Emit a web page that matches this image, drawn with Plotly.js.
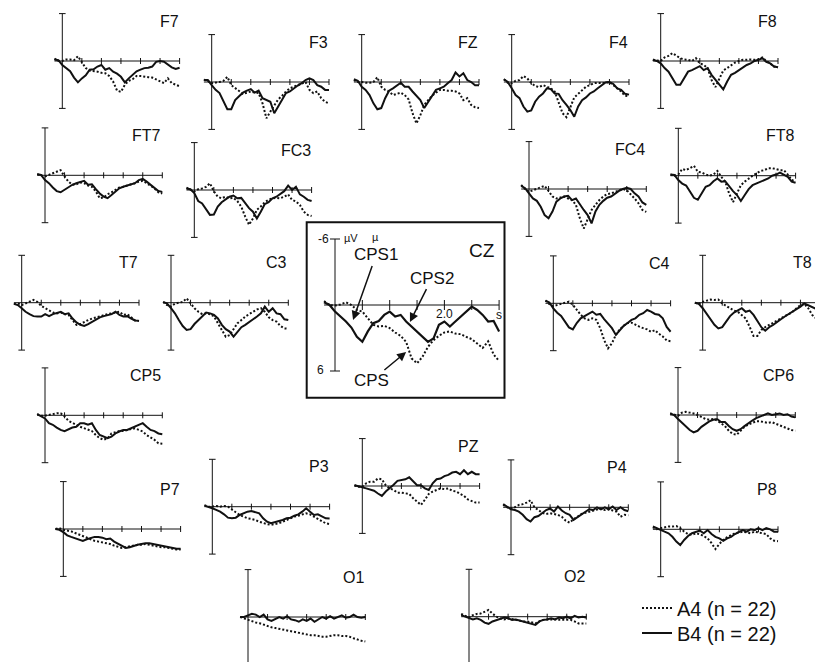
<!DOCTYPE html>
<html><head><meta charset="utf-8">
<script src="https://cdn.plot.ly/plotly-3.0.1.min.js"></script>
<style>html,body{margin:0;padding:0;background:#fff}#chart{width:815px;height:662px}</style>
</head><body><div id="chart"></div>
<script>
// time in seconds (x), amplitude in microvolts (negative plotted upward)
const TIME = [-0.2,-0.1,0.0,0.1,0.2,0.3,0.4,0.5,0.6,0.7,0.8,0.9,1.0,1.1,1.2,1.3,1.4,1.5,1.6,1.7,1.8,1.9,2.0,2.1,2.2,2.3,2.4,2.5,2.6,2.7,2.8,2.9,3.0];
const XTICKS = [0.5,1.0,1.5,2.0,2.5,3.0];
const SERIES_NAMES = ['A4 (n = 22)','B4 (n = 22)'];

const F7_A4 = [-0.3,0,0,-0.2,-0.2,-0.1,-0.6,0.1,0.9,1.2,1.25,1.35,1.5,1.55,1.9,2.6,3.75,3.9,3.0,2.5,2.3,1.9,1.9,2.0,2.05,2.1,2.3,2.5,2.8,2.2,2.8,3.0,3.2];
const F7_B4 = [-0.2,-0.1,0.5,0.9,1.3,2.1,2.7,2.2,1.8,1.1,1.05,0.7,0.5,1.1,0.9,1.35,1.6,2.0,2.7,2.2,1.8,1.3,1.1,0.9,0.85,0.7,0.1,0,0.1,0.5,0.8,1.0,0.85];
const F3_A4 = [-0.3,-0.15,0.15,0.1,0,-0.15,-0.65,0.4,0.8,1.1,1.5,1.35,1.2,1.35,1.4,2.7,4.6,3.75,2.9,2.2,1.75,1.2,0.8,0.6,0.4,0.15,0,1.0,1.4,1.2,2.05,2.5,2.7];
const F3_B4 = [-0.25,-0.25,0.4,1.0,1.4,2.5,3.45,3.45,2.3,1.8,1.35,1.1,0.9,1.35,1.1,2.05,2.3,2.5,3.95,3.1,2.3,1.4,1.2,0.8,0.45,0.15,-0.25,-0.45,-0.25,0.4,0.6,1.0,1.0];
const FZ_A4 = [-0.25,0,0,0.1,0.1,0,-0.6,0.6,1.0,1.2,1.65,1.45,1.35,1.65,2.2,3.95,5.25,4.2,2.9,2.3,1.75,1.35,1.0,1.0,1.1,1.1,1.2,1.45,2.3,2.05,2.9,3.2,3.3];
const FZ_B4 = [-0.35,-0.15,0.6,1.0,1.65,2.7,3.45,3.3,2.05,1.1,0.8,0.4,0.1,0.6,0.6,1.2,1.75,2.3,3.3,2.5,1.65,1.0,0.8,0.6,0.15,-0.25,-1.2,-0.7,-1.1,-0.25,0,0.4,0.4];
const F4_A4 = [-0.35,0.1,0.15,-0.15,-0.25,-0.75,-0.45,0.15,0.5,0.65,0.4,0.6,0.8,1.2,2.6,3.95,4.45,3.1,1.95,1.5,1.1,0.6,0.4,0.15,0.1,0.15,0.1,0,0.4,0.8,1.2,1.75,1.8];
const F4_B4 = [-0.35,0,0.8,1.65,2.05,3.1,3.75,3.6,2.5,1.85,1.45,0.8,0.9,1.45,1.5,2.3,2.9,3.55,4.4,3.1,2.3,1.95,1.45,1.2,0.8,0.4,0.05,0,0.25,0.8,1.0,1.5,1.6];
const F8_A4 = [-0.15,-0.05,0,-0.45,-0.65,-1.0,-0.65,-0.35,-0.2,-0.15,0,-0.35,0.3,0.5,0.9,2.4,3.3,2.2,1.2,0.9,0.5,0.2,0,-0.15,-0.15,-0.2,-0.15,-0.2,-0.45,0,0.3,0.7,0.8];
const F8_B4 = [-0.15,0,0.3,0.9,1.35,2.2,3.0,3.0,2.2,1.35,1.15,0.9,0.65,1.15,0.9,1.75,2.4,3.0,3.6,2.6,1.75,1.5,1.15,0.9,0.5,0.3,0,-0.15,-0.35,0.1,0.3,0.7,0.8];
const FT7_A4 = [-0.15,0.05,0.15,-0.05,-0.25,-0.45,-0.65,0.15,0.8,1.2,1.15,0.9,1.0,1.3,1.45,2.05,2.9,2.8,2.4,2.15,1.85,1.55,1.45,1.3,1.2,1.0,0.8,0.7,1.0,1.3,1.65,2.15,2.3];
const FT7_B4 = [-0.15,-0.05,0.6,1.0,1.55,2.0,2.15,1.85,1.45,1.2,1.0,0.8,0.7,1.2,1.15,1.75,2.3,2.7,2.9,2.5,2.05,1.65,1.45,1.3,1.2,1.0,0.6,0.45,0.8,1.2,1.55,2.0,2.1];
const FC3_A4 = [-0.3,0,0.2,-0.1,-0.2,-0.4,-0.85,0.15,0.85,1.05,0.85,1.05,1.0,1.4,2.1,3.35,4.4,3.6,2.5,2.1,1.55,1.25,1.05,1.0,1.05,0.85,0.55,1.25,1.45,1.9,2.75,3.15,3.3];
const FC3_B4 = [-0.2,-0.1,0.4,1.4,1.7,2.5,3.15,3.1,2.1,1.55,1.25,0.85,0.7,1.05,1.0,1.7,2.3,2.75,3.6,2.75,1.8,1.55,1.05,0.85,0.55,0.15,-0.55,0,-0.4,0.55,0.85,1.25,1.4];
const FC4_A4 = [-0.5,0,0.35,0.15,0,-0.3,-0.4,0.25,0.95,1.2,1.1,0.95,1.2,1.4,2.0,3.7,5.0,3.7,2.65,2.0,1.4,0.95,0.65,0.55,0.35,0.25,0,0.15,0.65,1.2,1.8,2.65,2.9];
const FC4_B4 = [-0.4,-0.1,0.55,1.2,1.5,2.25,3.3,3.7,2.85,1.6,1.2,0.95,0.85,1.4,1.2,2.0,2.65,3.3,4.35,2.85,2.0,1.5,1.1,0.95,0.55,0.25,0,-0.15,0,0.55,0.95,1.7,2.0];
const FT8_A4 = [-0.15,0,-0.15,-0.85,-0.7,-0.95,-1.25,-0.5,-0.4,-0.15,0,-0.15,-0.6,0.15,0.75,2.25,3.35,2.25,1.2,0.75,0.35,0,-0.3,-0.6,-0.7,-0.95,-0.95,-0.85,-0.7,-0.7,-0.15,0.55,0.7];
const FT8_B4 = [-0.15,-0.1,0.55,1.0,1.25,1.95,2.8,3.05,2.25,1.4,1.2,0.7,0.35,0.75,0.7,1.4,1.95,2.45,3.2,2.45,1.7,1.2,1.0,0.75,0.55,0.35,0,-0.15,-0.4,-0.15,0.15,0.75,0.9];
const T7_A4 = [0.15,0.1,0.3,0.1,-0.1,-0.35,-0.1,0.4,0.7,1.0,1.25,1.35,1.25,1.45,1.55,2.2,2.8,2.7,2.4,2.2,2.0,1.85,1.7,1.55,1.45,1.35,1.25,1.15,1.55,1.45,1.85,2.25,2.3];
const T7_B4 = [0.15,0.3,0.7,1.15,1.45,1.7,1.75,1.75,1.45,1.7,1.45,1.25,1.15,1.45,1.35,2.0,2.5,2.8,2.95,2.7,2.4,2.2,1.85,1.7,1.55,1.45,1.15,1.55,1.75,1.7,2.0,2.25,2.3];
const C3_A4 = [-0.1,0.3,0.5,0.1,0,-0.1,-0.55,0.1,0.7,1.15,1.45,1.35,1.45,1.75,2.6,3.45,4.3,4.1,3.35,2.6,2.2,1.75,1.45,1.15,0.85,0.7,1.15,1.85,2.2,2.4,2.95,3.25,3.3];
const C3_B4 = [-0.1,0.1,0.7,1.35,2.2,2.95,3.45,3.35,2.7,2.2,1.7,1.25,1.35,1.55,2.0,2.8,3.35,3.65,4.3,3.65,3.1,2.8,2.4,2.1,1.75,1.35,0.5,1.15,0.7,1.35,1.45,2.1,2.2];
const C4_A4 = [-0.35,0.1,0.35,0.2,0.1,0,-0.2,0.2,0.85,1.45,1.9,2.1,1.9,2.1,3.15,4.65,5.7,5.05,4.0,3.3,2.85,2.5,2.45,2.75,2.95,3.15,3.3,3.6,3.4,3.85,4.2,4.7,4.8];
const C4_B4 = [-0.35,-0.1,0.65,1.2,1.6,2.3,3.05,3.3,2.5,1.9,1.6,1.25,1.05,1.45,1.35,2.0,2.6,3.15,4.0,3.35,2.85,2.5,2.1,1.9,1.45,1.25,0.85,1.05,1.35,1.45,1.9,3.0,3.6];
const T8_A4 = [0,0.15,-0.1,-0.25,-0.4,-0.35,-0.4,0.1,0.4,0.7,1.0,1.15,1.55,2.0,3.05,4.2,4.2,3.45,3.1,2.8,2.5,2.2,2.0,1.7,1.45,1.15,0.7,0.3,0.15,0.7,1.55,2.0,2.2];
const T8_B4 = [0,0.15,0.7,1.35,2.1,2.8,3.25,3.1,2.4,1.7,1.25,1.0,0.7,1.15,1.0,1.55,2.3,3.1,3.55,3.1,2.8,2.4,2.1,1.75,1.45,1.15,0.85,0.5,0.1,0.3,0.5,0.8,1.0];
const CP5_A4 = [-0.15,0.05,0.05,-0.05,-0.15,-0.25,-0.25,0.15,0.7,1.0,1.2,1.45,1.65,1.75,2.0,2.5,2.9,3.1,2.9,2.3,2.15,2.0,2.0,1.85,1.75,1.65,1.85,2.05,2.5,2.8,3.1,3.55,3.6];
const CP5_B4 = [-0.15,0.1,0.4,1.0,1.2,1.55,1.85,2.0,1.75,1.55,1.45,1.0,1.0,1.2,1.0,1.85,2.5,2.7,2.9,2.7,2.3,2.05,1.85,1.85,1.65,1.45,1.2,1.0,1.45,1.85,2.0,2.3,2.4];
const CP6_A4 = [-0.2,0,0.1,-0.3,-0.4,-0.3,-0.2,0,0.3,0.5,0.6,0.5,0.7,1.0,1.4,2.0,2.4,2.5,2.0,1.5,1.2,1.0,0.8,0.8,0.9,1.0,0.9,1.1,1.3,1.6,1.8,1.9,2.0];
const CP6_B4 = [-0.2,0,0.5,1.0,1.4,1.9,2.2,2.0,1.5,1.1,0.8,0.6,0.5,0.9,0.9,1.4,1.8,2.0,1.8,1.4,1.0,0.7,0.4,0.2,0,-0.2,0,-0.1,-0.2,0,-0.1,0.2,0.3];
const P7_A4 = [0,-0.1,0.1,0.2,0.3,0.5,0.7,1.0,1.2,1.4,1.5,1.6,1.7,1.8,1.9,2.1,2.3,2.4,2.3,2.2,2.1,2.0,2.0,1.9,2.0,2.1,2.2,2.3,2.3,2.4,2.5,2.6,2.6];
const P7_B4 = [0,0.1,0.4,0.8,1.0,1.2,1.4,1.5,1.3,1.1,1.0,1.0,1.1,1.3,1.2,1.6,1.9,2.2,2.4,2.3,2.1,2.0,1.9,1.8,1.8,1.9,2.0,2.1,2.2,2.3,2.4,2.5,2.5];
const P3_A4 = [-0.2,0,0,-0.1,0,-0.1,0,0.3,0.7,1.05,1.26,1.47,1.56,1.68,1.9,2.1,2.2,2.3,2.2,2.1,1.9,1.68,1.47,1.26,1.14,0.97,0.84,0.97,1.26,1.56,1.9,2.1,2.2];
const P3_B4 = [-0.13,0,0.2,0.4,0.63,0.97,1.39,1.47,1.39,1.05,0.84,0.63,0.55,0.72,0.84,1.47,1.9,2.1,1.98,1.77,1.68,1.47,1.39,1.14,0.97,0.63,0.21,0.63,1.05,0.97,1.26,1.47,1.5];
const PZ_A4 = [-0.1,0.1,0.1,-0.35,-0.55,-0.55,-0.95,-0.85,-0.1,0.3,0.5,0.85,0.85,0.95,1.0,1.55,2.0,2.4,1.75,1.0,0.7,0.5,0.3,0.4,0.3,0.6,0.7,1.0,1.25,1.7,1.85,2.1,2.1];
const PZ_B4 = [-0.1,0,0.15,0.3,0.5,0.6,0.95,1.25,0.7,0.3,-0.15,-0.65,-0.75,-0.85,-1.1,-0.55,-0.1,-0.1,0.3,0.5,-0.35,-0.85,-0.95,-1.25,-1.4,-1.7,-1.8,-1.5,-2.0,-1.5,-1.8,-1.5,-1.5];
const P4_A4 = [-0.3,0,0.15,0,-0.3,-0.4,-0.6,-0.9,0,0.35,0.7,0.85,0.75,0.85,0.95,1.2,1.7,1.95,1.5,1.2,0.85,0.7,0.55,0.35,0.25,0.15,0.35,0.25,0.4,0.55,1.2,0.95,1.0];
const P4_B4 = [-0.4,-0.1,0.25,0.35,0.55,0.95,1.5,1.8,1.25,1.1,0.75,0.35,0.15,0.55,-0.1,0.4,0.75,0.95,1.6,1.25,0.95,0.55,0.25,0.35,0,0.25,0,0.25,-0.1,0.35,0,0.35,0.5];
const P8_A4 = [-0.25,0,-0.15,-0.25,-0.35,-0.35,-0.4,-0.15,0.3,0.6,0.7,0.5,0.6,0.85,1.15,1.75,2.5,1.85,1.35,1.0,0.7,0.5,0.4,0.3,0.4,0.5,0.3,0.4,0.5,0.6,1.15,1.45,1.5];
const P8_B4 = [-0.35,-0.1,0.1,0.3,0.5,0.95,1.55,2.0,1.35,0.85,0.5,0.3,0.15,0.5,0.1,0.6,0.95,1.15,1.45,1.15,0.95,0.6,0.3,0.1,0.3,0,0.1,-0.15,0.1,-0.15,0,0.3,0.3];
const O1_A4 = [0,0.2,0.4,0.5,0.7,0.8,1.0,1.2,1.3,1.4,1.5,1.6,1.7,1.8,1.9,2.0,2.1,2.2,2.3,2.3,2.4,2.5,2.5,2.4,2.3,2.3,2.4,2.4,2.5,2.7,2.9,3.0,3.1];
const O1_B4 = [0,0,-0.2,-0.4,-0.3,0,-0.3,0.3,0.5,0.3,0,0.2,-0.1,0.3,0.4,0.6,0.3,0.5,0.2,0.6,0.3,0,0.2,-0.1,0.2,0,-0.2,0.1,0,-0.3,0,0.1,0];
const O2_A4 = [-0.35,-0.1,0.1,-0.2,-0.35,-0.4,-0.6,-0.85,-0.4,0,0.2,0.35,0.2,0.35,0.4,0.5,0.6,0.6,0.75,0.85,0.6,0.4,0.35,0.35,0.4,0.35,0.4,0.35,0.4,0.6,0.85,0.85,0.85];
const O2_B4 = [-0.2,0,0.2,0.35,0.2,0.4,0.75,0.9,0.6,0.4,0.2,0.1,0.2,0.4,0.35,0.5,0.6,0.75,0.9,1.05,0.6,0.4,0.35,0.2,0.35,0.1,0.2,0,0.2,-0.1,0.1,0,0.1];
const CZ_A4 = [-0.35,0,0.05,-0.05,-0.25,0,0.45,0.6,1.2,1.8,1.95,1.9,2.1,2.5,2.8,3.35,4.85,5.3,4.7,3.8,3.2,2.8,2.5,2.4,2.6,2.65,2.9,3.1,3.5,3.9,3.3,4.5,5.1];
const CZ_B4 = [-0.25,0,0.6,1.05,1.5,2.05,2.9,3.35,2.4,1.65,1.45,0.9,0.6,1.05,0.9,1.5,1.95,2.4,2.9,3.35,3.05,1.8,1.5,1.95,1.5,1.05,0.6,0.15,0.45,0.9,1.5,1.45,2.4];

const ELECTRODES = ['F7','F3','FZ','F4','F8','FT7','FC3','FC4','FT8','T7','C3','C4','T8','CP5','CP6','P7','P3','PZ','P4','P8','O1','O2','CZ'];
const DATA = {F7:[F7_A4,F7_B4],F3:[F3_A4,F3_B4],FZ:[FZ_A4,FZ_B4],F4:[F4_A4,F4_B4],F8:[F8_A4,F8_B4],
  FT7:[FT7_A4,FT7_B4],FC3:[FC3_A4,FC3_B4],FC4:[FC4_A4,FC4_B4],FT8:[FT8_A4,FT8_B4],
  T7:[T7_A4,T7_B4],C3:[C3_A4,C3_B4],C4:[C4_A4,C4_B4],T8:[T8_A4,T8_B4],
  CP5:[CP5_A4,CP5_B4],CP6:[CP6_A4,CP6_B4],P7:[P7_A4,P7_B4],P3:[P3_A4,P3_B4],PZ:[PZ_A4,PZ_B4],
  P4:[P4_A4,P4_B4],P8:[P8_A4,P8_B4],O1:[O1_A4,O1_B4],O2:[O2_A4,O2_B4],CZ:[CZ_A4,CZ_B4]};

// ---- layout geometry (pixel origin of t=0 / 0 µV, and scale) ----
const W = 815, H = 662;
const SX = 39.1, SY = 7.9;
const GEOM = {
  F7:[62.3,61], F3:[211.7,82], FZ:[361.7,82], F4:[511.7,82], F8:[660.7,61],
  FT7:[45,175.3], FC3:[194.3,190], FC4:[529,189], FT8:[678.3,175.7],
  T7:[21.7,302.7], C3:[171,302.7], C4:[553.3,303.3], T8:[702.7,302.7],
  CP5:[45,415.3], CP6:[678,415], P7:[63.3,529], P3:[212.3,506.7], PZ:[362.3,486],
  P4:[511,507.3], P8:[660.7,529.3], O1:[248,617], O2:[469,616.7],
  CZ:[335,305,54.7,11]
};
const FONT = 'Liberation Sans, Arial, Helvetica, sans-serif';
const INK = '#111';
const DOTS = '2px,2px';

const traces = [], shapes = [], annotations = [], layout = {};
ELECTRODES.forEach((name, i) => {
  const k = i + 1, sfx = k === 1 ? '' : String(k);
  const g = GEOM[name];
  const x0 = g[0], y0 = g[1], sx = g[2] || SX, sy = g[3] || SY;
  const big = name === 'CZ';
  let L = x0 - 0.3 * sx, R = x0 + 3.1 * sx, T = y0 - 6.4 * sy, B = y0 + 6.4 * sy;
  L = Math.max(0, L); R = Math.min(W, R); T = Math.max(0, T); B = Math.min(H, B);
  layout['xaxis' + sfx] = {domain: [L / W, R / W], range: [(L - x0) / sx, (R - x0) / sx], visible: false, fixedrange: true, anchor: 'y' + sfx};
  layout['yaxis' + sfx] = {domain: [1 - B / H, 1 - T / H], range: [(B - y0) / sy, (T - y0) / sy], visible: false, fixedrange: true, anchor: 'x' + sfx};
  const xr = 'x' + sfx, yr = 'y' + sfx;
  const [a4, b4] = DATA[name];
  traces.push({x: TIME, y: a4, xaxis: xr, yaxis: yr, type: 'scatter', mode: 'lines', name: SERIES_NAMES[0], legend: 'legend', showlegend: i === 0,
    line: {color: INK, width: 2, dash: DOTS}, hoverinfo: 'skip'});
  traces.push({x: TIME, y: b4, xaxis: xr, yaxis: yr, type: 'scatter', mode: 'lines', name: SERIES_NAMES[1], legend: 'legend2', showlegend: i === 0,
    line: {color: INK, width: big ? 2.2 : 2}, hoverinfo: 'skip'});
  const ln = {color: INK, width: 1};
  const cap = (big ? 5 : 3.3) / sx, tk = (big ? 5 : 3) / sy;
  shapes.push({type: 'line', xref: xr, yref: yr, x0: 0, x1: 0, y0: -6, y1: 6, line: ln});
  shapes.push({type: 'line', xref: xr, yref: yr, x0: -cap, x1: cap, y0: -6, y1: -6, line: ln});
  shapes.push({type: 'line', xref: xr, yref: yr, x0: -cap, x1: cap, y0: 6, y1: 6, line: ln});
  shapes.push({type: 'line', xref: xr, yref: yr, x0: TIME[0], x1: XTICKS[XTICKS.length - 1], y0: 0, y1: 0, line: ln});
  XTICKS.forEach(t => shapes.push({type: 'line', xref: xr, yref: yr, x0: t, x1: t, y0: -tk, y1: tk, line: ln}));
  if (!big) {
    const lx = Math.min(x0 + 3 * sx + 1, W - 1);
    annotations.push({text: name, xref: 'paper', yref: 'paper', x: lx / W, y: 1 - (y0 - 6 * sy - 3) / H,
      xanchor: 'right', yanchor: 'top', showarrow: false, font: {family: FONT, size: 16, color: INK}});
  } else {
    const A = (text, x, y, xa, ya, size) => annotations.push({text, xref: xr, yref: yr, x, y, xanchor: xa, yanchor: ya, showarrow: false, font: {family: FONT, size, color: INK}});
    A('CZ', 2.97, -6.05, 'right', 'top', 19);
    A('-6', -0.08, -6, 'right', 'middle', 12);
    A('6', -0.17, 5.9, 'right', 'middle', 12);
    A('\u00b5V', 0.12, -6.05, 'left', 'middle', 11);
    A('\u00b5', 0.64, -6.2, 'left', 'middle', 11);
    A('2.0', 2.0, 0.85, 'center', 'middle', 12);
    A('s', 3.0, 0.9, 'center', 'middle', 12);
    const P = (text, x, y, ax, ay) => annotations.push({text, xref: xr, yref: yr, x, y, ax, ay, showarrow: true, arrowhead: 2, arrowsize: 1.2, arrowwidth: 1.5, arrowcolor: INK, font: {family: FONT, size: 17, color: INK}});
    P('CPS1', 0.33, 1.36, 23, -65);
    P('CPS2', 1.37, 1.55, 22, -44);
    P('CPS', 1.30, 4.27, -35, 29);
    shapes.push({type: 'rect', xref: 'paper', yref: 'paper', x0: 306.7 / W, x1: 504.5 / W, y0: 1 - 397.7 / H, y1: 1 - 222.3 / H, line: {color: INK, width: 2}});
  }
});

const legendStyle = top => ({x: 637 / W, y: 1 - top / H, xanchor: 'left', yanchor: 'top', bgcolor: 'rgba(0,0,0,0)', borderwidth: 0,
  font: {family: FONT, size: 20, color: INK}, tracegroupgap: 0, itemwidth: 30});
Object.assign(layout, {
  width: W, height: H, margin: {l: 0, r: 0, t: 0, b: 0}, paper_bgcolor: '#fff', plot_bgcolor: 'rgba(0,0,0,0)',
  font: {family: FONT, color: INK}, shapes, annotations, showlegend: true,
  legend: legendStyle(588.5), legend2: legendStyle(613.5)
});
Plotly.newPlot('chart', traces, layout, {displayModeBar: false, staticPlot: true});
</script></body></html>
